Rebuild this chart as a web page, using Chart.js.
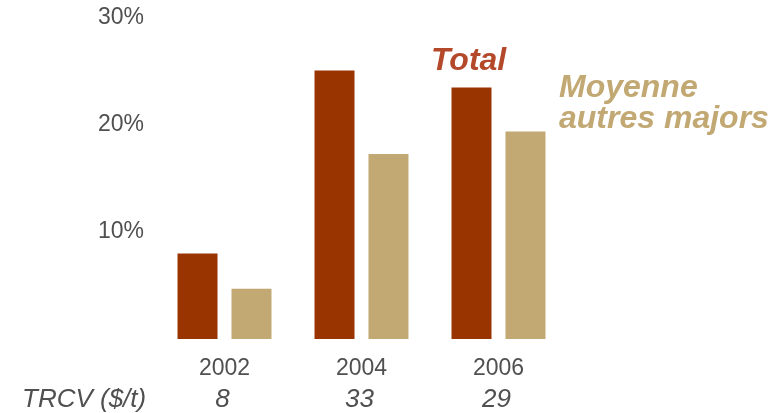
<!DOCTYPE html>
<html>
<head>
<meta charset="utf-8">
<script src="https://cdn.jsdelivr.net/npm/chart.js@4"></script>
<style>
html,body{margin:0;padding:0;background:#fff;}
#wrap{width:777px;height:413px;position:relative;}
</style>
</head>
<body>
<div id="wrap"><canvas id="c" width="777" height="413"></canvas></div>
<script>
const categories = ['2002', '2004', '2006'];
const totalValues = [8.0, 25.1, 23.5];
const moyenneValues = [4.7, 17.3, 19.4];
const trcvValues = ['8', '33', '29'];
const yTicks = [10, 20, 30];
const seriesNames = ['Total', ['Moyenne', 'autres majors']];
const rowLabel = 'TRCV ($/t)';

const TOTAL_COLOR = '#993300';
const MOY_COLOR = '#c2a872';
const TEXT_COLOR = '#505050';
const FONT = '"Liberation Sans", Arial, sans-serif';

const annotations = {
  id: 'annotations',
  afterDraw(chart) {
    const ctx = chart.ctx;
    const x = chart.scales.x;
    ctx.save();
    // TRCV row
    ctx.fillStyle = TEXT_COLOR;
    ctx.font = 'italic 26px ' + FONT;
    ctx.textBaseline = 'alphabetic';
    ctx.textAlign = 'left';
    ctx.fillText(rowLabel, 22, 407);
    ctx.textAlign = 'center';
    trcvValues.forEach((v, i) => {
      ctx.fillText(v, x.getPixelForValue(i) - 2, 407);
    });
    // series labels
    ctx.textAlign = 'left';
    ctx.font = 'italic bold 32px ' + FONT;
    ctx.fillStyle = '#b4482a';
    ctx.fillText(seriesNames[0], 431, 70);
    ctx.fillStyle = MOY_COLOR;
    ctx.fillText(seriesNames[1][0], 559, 97);
    ctx.fillText(seriesNames[1][1], 559, 128);
    ctx.restore();
  }
};

new Chart(document.getElementById('c'), {
  type: 'bar',
  data: {
    labels: categories,
    datasets: [
      { label: 'Total', data: totalValues, backgroundColor: TOTAL_COLOR, borderWidth: 0 },
      { label: 'Moyenne autres majors', data: moyenneValues, backgroundColor: MOY_COLOR, borderWidth: 0 }
    ]
  },
  options: {
    responsive: false,
    animation: false,
    devicePixelRatio: 1,
    layout: { padding: { top: 18, right: 210, left: 0, bottom: 0 } },
    datasets: { bar: { barPercentage: 0.741, categoryPercentage: 0.788 } },
    plugins: { legend: { display: false }, tooltip: { enabled: false } },
    scales: {
      x: {
        grid: { display: false, drawTicks: false },
        border: { display: false },
        ticks: { color: TEXT_COLOR, font: { family: FONT, size: 23 }, padding: 16 },
        afterFit(s) { s.height = 74; }
      },
      y: {
        min: 0, max: 30,
        afterBuildTicks(s) { s.ticks = yTicks.map(v => ({ value: v })); },
        grid: { display: false, drawTicks: false },
        border: { display: false },
        ticks: { color: TEXT_COLOR, font: { family: FONT, size: 23, lineHeight: 0.5 }, padding: 12,
          callback: v => v + '%' },
        afterFit(s) { s.width = 156; }
      }
    }
  },
  plugins: [annotations]
});
</script>
</body>
</html>
